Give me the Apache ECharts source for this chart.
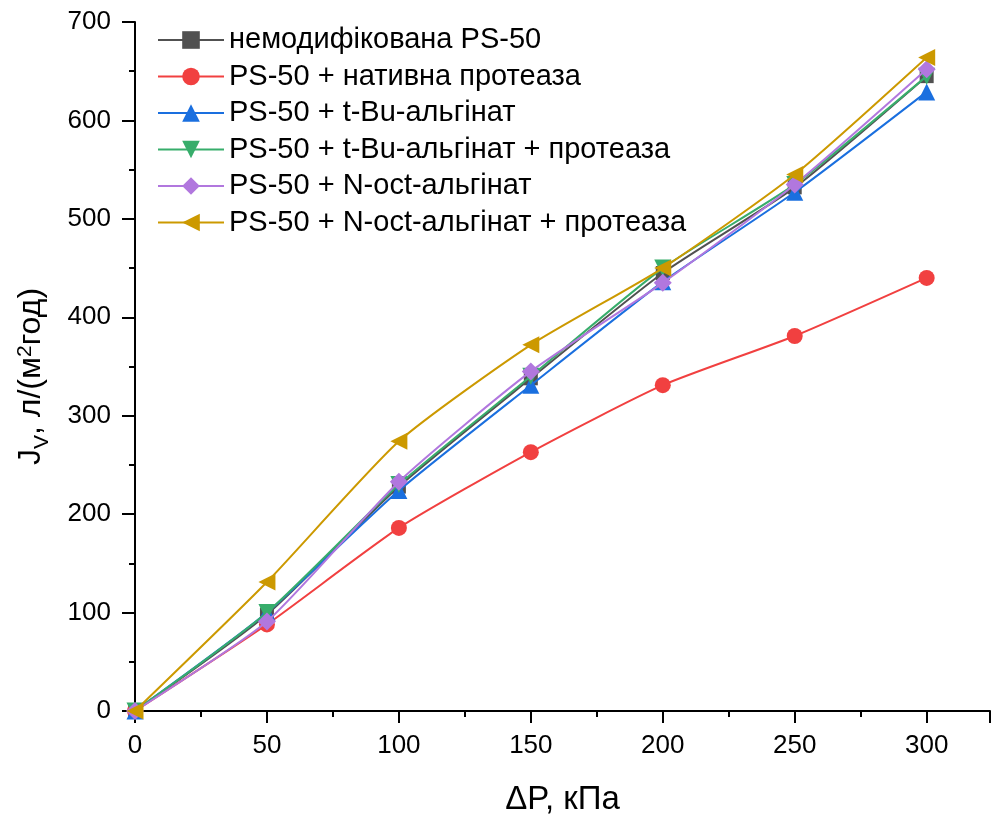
<!DOCTYPE html>
<html><head><meta charset="utf-8">
<script src="https://cdn.jsdelivr.net/npm/echarts@6/dist/echarts.min.js"></script>
<style>html,body{margin:0;padding:0;background:#fff}#c{width:992px;height:823px}</style>
</head><body><div id="c"></div>
<script>
const pressure = [0, 50, 100, 150, 200, 250, 300];
const seriesNames = [
  'немодифікована PS-50',
  'PS-50 + нативна протеаза',
  'PS-50 + t-Bu-альгінат',
  'PS-50 + t-Bu-альгінат + протеаза',
  'PS-50 + N-oct-альгінат',
  'PS-50 + N-oct-альгінат + протеаза'
];
const unmodified = [0, 98, 228, 338, 445, 532, 645];
const nativeProtease = [0, 88, 186, 263, 331, 381, 440];
const tBu = [0, 100, 224, 331, 436, 527, 629];
const tBuProtease = [0, 100, 230, 340, 450, 535, 645];
const nOct = [0, 91, 233, 345, 435, 535, 652];
const nOctProtease = [0, 131, 274, 372, 450, 545, 664];

const allData = [unmodified, nativeProtease, tBu, tBuProtease, nOct, nOctProtease];
const colors = ['#515151', '#F14040', '#1A6FDF', '#37AD6B', '#B177DE', '#CC9900'];
const symbols = ['rect', 'circle', 'triangle', 'path://M0,0 L10,0 L5,9 Z', 'diamond', 'path://M10,0 L10,10 L0,5 Z'];
const sizes = [14, 16, 17, 17, 18, 17];

const chart = echarts.init(document.getElementById('c'));
const font = 'Liberation Sans, Arial, sans-serif';
chart.setOption({
  animation: false,
  textStyle: {fontFamily: font},
  legend: {
    orient: 'vertical', left: 152, top: 20,
    itemWidth: 66, itemHeight: 22, itemGap: 6.5,
    textStyle: {fontSize: 29, color: '#000', fontFamily: font, lineHeight: 30},
    data: seriesNames
  },
  grid: {left: 135, top: 22, right: 2, bottom: 112, outerBoundsMode: 'none', containLabel: false},
  xAxis: {
    type: 'value', min: 0, max: 324, interval: 50,
    name: 'ΔP, кПа', nameLocation: 'middle', nameGap: 72,
    nameTextStyle: {fontSize: 33, color: '#000', fontFamily: font},
    axisLine: {lineStyle: {color: '#000', width: 2}},
    axisTick: {inside: false, length: 12, lineStyle: {color: '#000', width: 2}},
    minorTick: {show: true, splitNumber: 2, length: 6, lineStyle: {color: '#000', width: 2}},
    axisLabel: {fontSize: 26, color: '#000', margin: 22, fontFamily: font,
      formatter: v => (v % 50 === 0 ? String(v) : '')},
    splitLine: {show: false}
  },
  yAxis: {
    type: 'value', min: 0, max: 700, interval: 100,
    name: '{a|J}{s|V}{a|, л/(м}{p|2}{a|год)}', nameLocation: 'middle', nameGap: 82,
    nameTextStyle: {
      fontSize: 32, color: '#000', fontFamily: font, padding: [0, 20, 0, 0],
      rich: {
        a: {fontSize: 32, color: '#000', fontFamily: font, lineHeight: 44, verticalAlign: 'middle'},
        s: {fontSize: 21, color: '#000', fontFamily: font, lineHeight: 44, verticalAlign: 'bottom'},
        p: {fontSize: 21, color: '#000', fontFamily: font, lineHeight: 44, verticalAlign: 'top', padding: [6, 0, 0, 0]}
      }
    },
    axisLine: {show: true, lineStyle: {color: '#000', width: 2}},
    axisTick: {show: true, inside: false, length: 13, lineStyle: {color: '#000', width: 2}},
    minorTick: {show: true, splitNumber: 2, length: 6, lineStyle: {color: '#000', width: 2}},
    axisLabel: {fontSize: 26, color: '#000', margin: 24, fontFamily: font},
    splitLine: {show: false}
  },
  series: seriesNames.map((n, i) => ({
    name: n, type: 'line', smooth: 0.2,
    data: pressure.map((p, k) => [p, allData[i][k]]),
    symbol: symbols[i], symbolSize: sizes[i],
    itemStyle: {color: colors[i]},
    lineStyle: {color: colors[i], width: 2},
    z: 2 + i
  }))
});
</script></body></html>
